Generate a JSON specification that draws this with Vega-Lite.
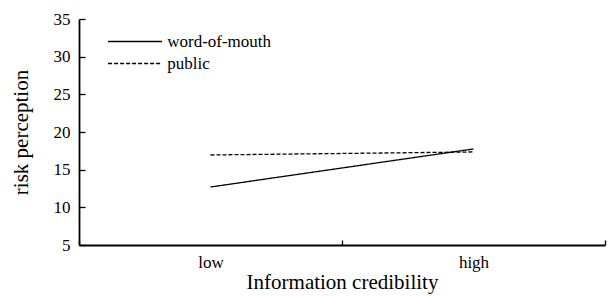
{
  "$schema": "https://vega.github.io/schema/vega-lite/v6.json",
  "width": 526,
  "height": 226,
  "autosize": {"type": "none"},
  "padding": {"left": 79, "top": 19, "right": 6, "bottom": 51},
  "background": "white",
  "config": {
    "view": {"stroke": null},
    "font": "Liberation Serif",
    "style": {
      "guide-label": {"font": "Liberation Serif", "fontSize": 17, "fill": "#000"},
      "guide-title": {"font": "Liberation Serif", "fontSize": 21, "fill": "#000", "fontWeight": "normal"}
    },
    "legend": {"labelFont": "Liberation Serif", "labelFontSize": 17, "labelColor": "#000"},
    "axis": {"grid": false, "domainColor": "#000", "domainWidth": 1.8, "tickColor": "#000", "tickWidth": 1.3, "labelColor": "#000", "titleColor": "#000", "labelFont": "Liberation Serif", "titleFont": "Liberation Serif", "labelFontSize": 17, "titleFontSize": 21, "titleFontWeight": "normal"}
  },
  "data": {
    "values": [
      {"cred": "low", "type": "word-of-mouth", "v": 12.7},
      {"cred": "high", "type": "word-of-mouth", "v": 17.75},
      {"cred": "low", "type": "public", "v": 16.95},
      {"cred": "high", "type": "public", "v": 17.35}
    ]
  },
  "mark": {"type": "line", "color": "#000", "strokeWidth": 1.3},
  "encoding": {
    "x": {
      "field": "cred", "type": "nominal", "sort": ["low", "high"],
      "scale": {"paddingInner": 0, "paddingOuter": 0},
      "axis": {"title": "Information credibility", "labelAngle": 0, "tickBand": "extent", "tickSize": -5, "labelPadding": 14, "titlePadding": 1, "labelFont": "Liberation Serif", "titleFont": "Liberation Serif"}
    },
    "y": {
      "field": "v", "type": "quantitative",
      "scale": {"domain": [5, 35], "nice": false, "zero": false},
      "axis": {"title": "risk perception", "values": [5, 10, 15, 20, 25, 30, 35], "tickSize": -6, "labelPadding": 15, "titlePadding": 22, "labelFont": "Liberation Serif", "titleFont": "Liberation Serif"}
    },
    "strokeDash": {
      "field": "type", "type": "nominal",
      "scale": {"domain": ["word-of-mouth", "public"], "range": [[1, 0], [4, 2]]},
      "legend": {
        "title": null, "orient": "none", "legendX": 47.6, "legendY": 14,
        "symbolType": "M-5,0H5", "symbolSize": 116.6, "symbolStrokeColor": "#000", "symbolStrokeWidth": 1.3, "symbolFillColor": "transparent",
        "labelFont": "Liberation Serif", "labelFontSize": 17, "labelColor": "#000", "labelOffset": 23.6, "rowPadding": 4
      }
    }
  }
}
